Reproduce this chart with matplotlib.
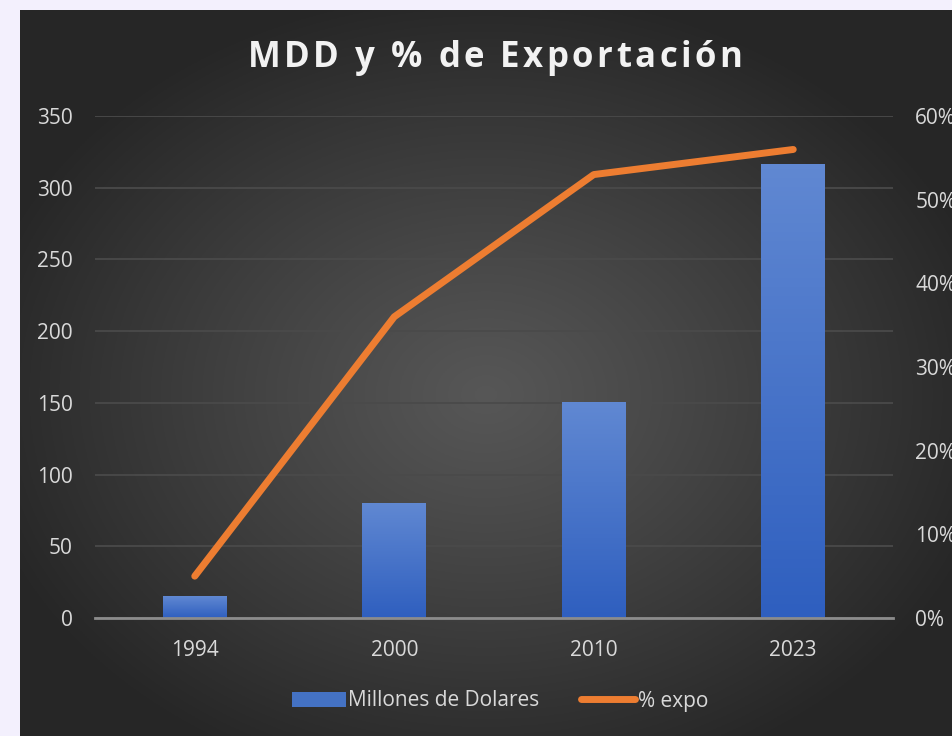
import numpy as np
import matplotlib.pyplot as plt
from matplotlib.lines import Line2D
from matplotlib.patches import Patch

# data
years = ['1994', '2000', '2010', '2023']
mdd = [15, 80, 150, 316]            # millones de dolares
expo_pct = [5, 36, 53, 56]          # % exportacion
title = 'MDD y % de Exportación'

plt.rcParams['font.family'] = ['Open Sans', 'DejaVu Sans']
txt_color = '#d9d9d9'

W, H = 952, 736
fig = plt.figure(figsize=(W / 100, H / 100), dpi=100, facecolor='#f3f0fd')

# dark radial-gradient background panel
bg = fig.add_axes([20 / W, 0, (W - 20) / W, (H - 10) / H])
bg.set_axis_off()
yy, xx = np.mgrid[0:1:400j, 0:1:500j]
cx, cy = 0.5, 0.47
r = np.sqrt(((xx - cx) / 0.75) ** 2 + ((yy - cy) / 0.75) ** 2)
r = np.clip(r / 0.75, 0, 1)
shade = 0.34 - (0.34 - 0.15) * r ** 1.1
bg.imshow(np.dstack([shade] * 3), extent=[0, 1, 0, 1], aspect='auto', origin='lower')
bg.set_xlim(0, 1)
bg.set_ylim(0, 1)

# main axes
ax = fig.add_axes([95 / W, 1 - 618 / H, 798 / W, 502 / H])
ax.patch.set_alpha(0)
x = np.arange(len(years))
bw = 0.32
bars = ax.bar(x, mdd, width=bw, color='#4472c4', zorder=2)
grad = np.linspace(0, 1, 100).reshape(-1, 1)
top_c = np.array([0x60, 0x88, 0xd2]) / 255
bot_c = np.array([0x2f, 0x5f, 0xbf]) / 255
img = bot_c + (top_c - bot_c) * grad[..., None]
for b in bars:
    x0, w, h = b.get_x(), b.get_width(), b.get_height()
    ax.imshow(img, extent=[x0, x0 + w, 0, h], aspect='auto', origin='lower', zorder=3)
ax.set_xlim(-0.5, len(years) - 0.5)
ax.set_ylim(0, 350)
ax.set_yticks(range(0, 351, 50))
ax.grid(axis='y', color='#4a4a4a', linewidth=1.3, zorder=0)
ax.set_axisbelow(True)
for s in ['top', 'right', 'left']:
    ax.spines[s].set_visible(False)
ax.spines['bottom'].set_color('#8c8c8c')
ax.spines['bottom'].set_linewidth(2)
ax.spines['bottom'].set_zorder(4)
ax.set_xticks(x)
ax.set_xticklabels(years)
ax.tick_params(axis='x', length=0, pad=16, labelsize=15, labelcolor=txt_color)
ax.tick_params(axis='y', length=0, pad=16, labelsize=15, labelcolor=txt_color)

ax2 = ax.twinx()
ax2.patch.set_alpha(0)
ax2.plot(x, expo_pct, color='#ed7d31', linewidth=5, solid_capstyle='round',
         solid_joinstyle='round', zorder=5)
ax2.set_ylim(0, 60)
ax2.set_yticks(range(0, 61, 10))
ax2.set_yticklabels([f'{v}%' for v in range(0, 61, 10)])
for s in ax2.spines.values():
    s.set_visible(False)
ax2.tick_params(axis='y', length=0, pad=16, labelsize=15, labelcolor=txt_color)

# title with letter spacing (drawn char by char)
renderer = fig.canvas.get_renderer()
tkw = dict(fontsize=25, fontweight='bold', color='#f2f2f2', va='center', ha='left')
def text_w(s):
    t = fig.text(0, 0, s + 'x', **tkw)
    w = t.get_window_extent(renderer).width
    t.remove()
    return w
wx = text_w('')
spacing = 3.5
full_w = text_w(title) - wx + spacing * (len(title) - 1)
x_start = 495 - full_w / 2
for i, ch in enumerate(title):
    off = text_w(title[:i]) - wx + spacing * i
    fig.text((x_start + off) / W, 1 - 58 / H, ch, **tkw)

# legend
handles = [Patch(facecolor='#4472c4', edgecolor='none'),
           Line2D([0], [0], color='#ed7d31', linewidth=5, solid_capstyle='round')]
fig.legend(handles, ['Millones de Dolares', '% expo'], loc='center',
           bbox_to_anchor=(500 / W, 1 - 701 / H), ncol=2, frameon=False,
           fontsize=15, labelcolor=txt_color, handlelength=2.6, handletextpad=0.1,
           columnspacing=2.0)

fig.savefig('out.png', dpi=100, facecolor=fig.get_facecolor())
